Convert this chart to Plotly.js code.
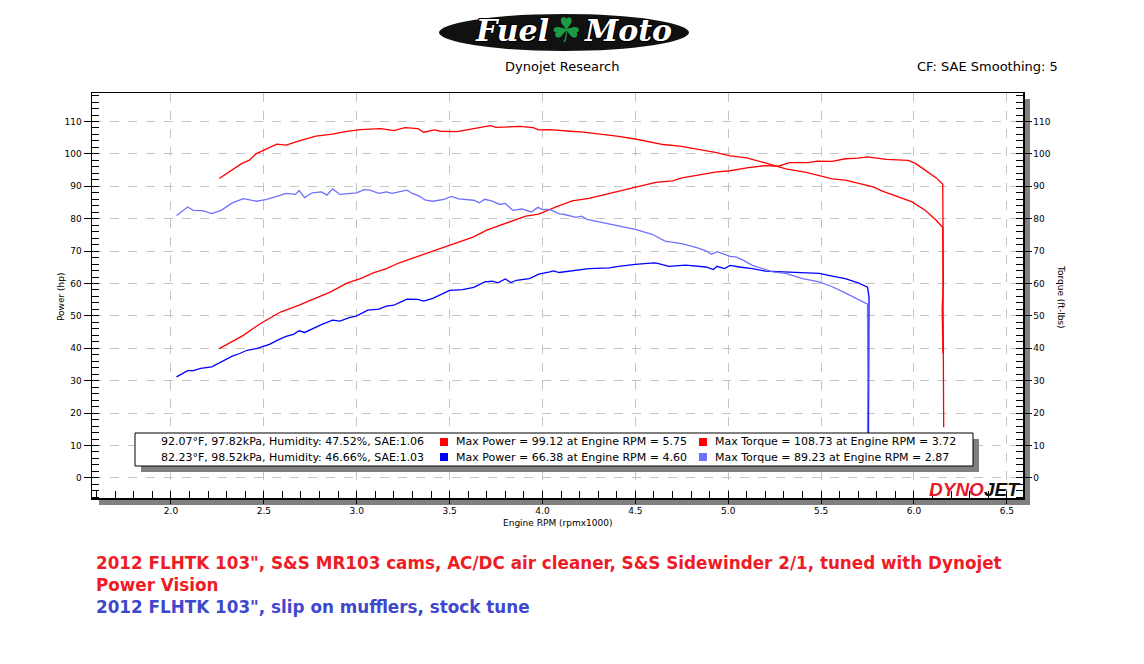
<!DOCTYPE html>
<html>
<head>
<meta charset="utf-8">
<script src="https://cdn.plot.ly/plotly-3.0.1.min.js"></script>
<style>html,body{margin:0;padding:0;background:#fff;}#chart{width:1144px;height:664px;}</style>
</head>
<body>
<div id="chart"></div>
<script>
// ---- Data ----
const tunedHpRpm = [2.26,2.39,2.48,2.59,2.69,2.78,2.86,2.95,3.02,3.09,3.16,3.23,3.32,3.41,3.48,3.57,3.63,3.70,3.77,3.84,3.91,3.98,4.07,4.16,4.25,4.34,4.43,4.52,4.61,4.70,4.75,4.83,4.93,5.01,5.10,5.20,5.27,5.33,5.43,5.48,5.56,5.63,5.70,5.75,5.85,5.97,6.01,6.06,6.12,6.155,6.158,6.152,6.156];
const tunedHp = [39.9,44.0,47.6,51.2,53.3,55.4,57.4,60.2,61.5,63.3,64.6,66.4,68.2,69.8,71.3,73.1,74.4,76.5,78.0,79.5,80.8,81.4,83.6,85.5,86.3,87.5,88.8,90.0,91.2,91.7,92.6,93.4,94.4,94.8,95.7,96.4,96.2,97.3,97.3,97.8,97.7,98.5,98.7,99.1,98.3,98.0,97.0,95.0,92.6,90.6,60,52,38.5];

const tunedTqRpm = [2.26,2.38,2.42,2.46,2.57,2.62,2.69,2.78,2.87,2.93,3.02,3.09,3.13,3.20,3.26,3.33,3.36,3.42,3.45,3.54,3.63,3.72,3.75,3.88,3.95,3.98,4.04,4.09,4.15,4.22,4.33,4.40,4.50,4.59,4.65,4.74,4.83,4.93,5.01,5.10,5.20,5.31,5.42,5.51,5.56,5.63,5.70,5.78,5.83,5.90,5.99,6.06,6.12,6.155,6.158,6.16];
const tunedTq = [92.4,97.0,98.0,100.1,103.0,102.7,104.0,105.5,106.1,106.8,107.5,107.8,107.8,107.2,108.1,107.8,106.7,107.4,107.0,106.9,107.8,108.7,108.2,108.5,108.1,107.4,107.5,107.2,107.0,106.7,106.0,105.5,104.6,103.6,102.9,102.4,101.5,100.5,99.4,98.8,97.2,95.4,94.3,93.1,92.3,91.9,90.9,89.8,88.5,87.0,85.2,82.6,79.5,77.3,50,15.6];

const stockHpRpm = [2.03,2.09,2.12,2.16,2.22,2.27,2.33,2.37,2.41,2.46,2.51,2.53,2.58,2.62,2.66,2.69,2.72,2.76,2.81,2.87,2.91,2.96,3.00,3.06,3.12,3.16,3.20,3.23,3.27,3.33,3.36,3.41,3.46,3.50,3.57,3.63,3.69,3.73,3.76,3.80,3.83,3.86,3.93,3.98,4.04,4.06,4.09,4.12,4.18,4.25,4.36,4.41,4.50,4.60,4.62,4.68,4.77,4.83,4.88,4.92,4.94,4.98,5.01,5.06,5.13,5.20,5.27,5.35,5.42,5.49,5.56,5.63,5.70,5.75,5.758,5.758,5.755];
const stockHp = [31.2,33.1,33.1,33.8,34.3,35.8,37.6,38.4,39.4,39.9,40.7,41.2,42.7,43.7,44.3,45.4,44.9,46.0,47.3,48.7,48.4,49.5,50.0,51.8,52.1,53.0,53.3,54.1,55.2,55.1,54.6,55.4,56.7,57.9,58.1,58.8,60.5,60.7,60.2,61.4,60.3,61.0,61.5,62.9,63.6,63.9,63.4,63.6,64.1,64.6,64.8,65.3,65.9,66.4,66.2,65.3,65.7,65.4,65.1,64.3,65.3,64.6,65.6,65.1,64.6,63.8,63.6,63.6,63.3,63.1,62.3,61.5,60.2,58.9,55.9,51.8,12];

const stockTqRpm = [2.03,2.09,2.12,2.17,2.22,2.27,2.33,2.39,2.46,2.51,2.57,2.62,2.67,2.69,2.72,2.76,2.81,2.84,2.87,2.91,3.00,3.04,3.07,3.12,3.16,3.19,3.27,3.30,3.34,3.37,3.41,3.47,3.51,3.55,3.63,3.66,3.69,3.73,3.77,3.80,3.84,3.89,3.94,3.975,4.00,4.04,4.09,4.12,4.18,4.21,4.24,4.33,4.40,4.50,4.59,4.66,4.75,4.83,4.88,4.91,4.94,4.98,5.01,5.04,5.08,5.13,5.18,5.24,5.31,5.40,5.49,5.56,5.63,5.70,5.73,5.75,5.752,5.75];
const stockTq = [81.0,83.6,82.6,82.5,81.6,82.6,84.9,86.2,85.4,85.9,86.9,87.8,87.5,88.7,86.5,88.0,88.3,87.3,89.2,87.5,88.0,89.0,88.8,87.8,88.3,87.8,88.8,87.8,86.9,85.7,85.4,86.0,86.9,86.1,85.7,84.9,86.0,85.4,84.4,84.7,82.6,83.0,82.1,83.5,82.8,82.9,81.5,81.3,80.4,80.8,79.8,78.7,77.8,76.7,75.2,73.1,72.3,71.1,70.1,69.0,69.8,69.0,68.4,68.2,67.2,65.6,64.6,63.6,63.1,61.5,60.5,59.0,57.1,55.1,54.0,53.6,30,11.5];

const infoConditions = ["92.07°F, 97.82kPa, Humidity: 47.52%, SAE:1.06", "82.23°F, 98.52kPa, Humidity: 46.66%, SAE:1.03"];
const infoPower = ["Max Power = 99.12 at Engine RPM = 5.75", "Max Power = 66.38 at Engine RPM = 4.60"];
const infoTorque = ["Max Torque = 108.73 at Engine RPM = 3.72", "Max Torque = 89.23 at Engine RPM = 2.87"];
const captionTuned = "2012 FLHTK 103\", S&S MR103 cams, AC/DC air cleaner, S&S Sidewinder 2/1, tuned with Dynojet<br>Power Vision";
const captionStock = "2012 FLHTK 103\", slip on mufflers, stock tune";

// ---- Styles ----
const RED = "#ff0000", BLUE = "#0000ff", LBLUE = "#7070ff";
const FONT = "DejaVu Sans";
const L = 92, R = 1023, T = 93, B = 498;
const px = x => (x - L) / (R - L);
const py = y => (B - y) / (B - T);

const traces = [
  {x: tunedHpRpm, y: tunedHp, type: "scatter", mode: "lines", line: {color: RED, width: 1.3}, yaxis: "y"},
  {x: tunedTqRpm, y: tunedTq, type: "scatter", mode: "lines", line: {color: RED, width: 1.3}, yaxis: "y2"},
  {x: stockHpRpm, y: stockHp, type: "scatter", mode: "lines", line: {color: BLUE, width: 1.3}, yaxis: "y"},
  {x: stockTqRpm, y: stockTq, type: "scatter", mode: "lines", line: {color: LBLUE, width: 1.3}, yaxis: "y2"}
];

const yCommon = {
  range: [-6.2, 118.8], dtick: 10, tick0: 0,
  showline: true, linecolor: "#000", linewidth: 1.5,
  ticks: "outside", ticklen: 7, tickcolor: "#000", tickwidth: 1,
  minor: {dtick: 2, ticks: "inside", ticklen: 7, tickcolor: "#000", showgrid: false},
  tickfont: {family: FONT, size: 9, color: "#000"},
  zeroline: false, fixedrange: true
};

const layout = {
  width: 1144, height: 664,
  margin: {l: L, r: 1144 - R, t: T, b: 664 - B, pad: 0},
  paper_bgcolor: "#fff", plot_bgcolor: "#fff",
  showlegend: false,
  font: {family: FONT, color: "#000"},
  xaxis: {
    range: [1.575, 6.587], dtick: 0.5, tick0: 0, tickformat: ".1f",
    showline: true, mirror: true, linecolor: "#000", linewidth: 1.5,
    ticks: "outside", ticklen: 4, tickcolor: "#000",
    minor: {dtick: 0.1, ticks: "inside", ticklen: 7, tickcolor: "#000", showgrid: false},
    showgrid: true, gridcolor: "#c4c4c4", griddash: "dash", gridwidth: 1,
    tickfont: {family: FONT, size: 9, color: "#000"},
    zeroline: false, fixedrange: true
  },
  yaxis: Object.assign({}, yCommon, {
    showgrid: true, gridcolor: "#c4c4c4", griddash: "dash", gridwidth: 1, side: "left"
  }),
  yaxis2: Object.assign({}, yCommon, {
    overlaying: "y", side: "right", showgrid: false
  }),
  shapes: [
    // plot-area drop shadow
    {type: "rect", xref: "paper", yref: "paper", x0: px(1023), x1: px(1030), y0: py(505), y1: py(99), fillcolor: "#808080", line: {width: 0}, layer: "below"},
    {type: "rect", xref: "paper", yref: "paper", x0: px(99), x1: px(1030), y0: py(505), y1: py(498), fillcolor: "#808080", line: {width: 0}, layer: "below"},
    // info box shadow + box
    {type: "rect", xref: "paper", yref: "paper", x0: px(141), x1: px(979), y0: py(472), y1: py(439), fillcolor: "#808080", line: {width: 0}, layer: "above"},
    {type: "rect", xref: "paper", yref: "paper", x0: px(135), x1: px(973), y0: py(466), y1: py(433), fillcolor: "#fff", line: {color: "#000", width: 1}, layer: "above"},
    // legend squares
    {type: "rect", xref: "paper", yref: "paper", x0: px(440), x1: px(448), y0: py(446), y1: py(438), fillcolor: RED, line: {width: 0}, layer: "above"},
    {type: "rect", xref: "paper", yref: "paper", x0: px(699), x1: px(707), y0: py(446), y1: py(438), fillcolor: RED, line: {width: 0}, layer: "above"},
    {type: "rect", xref: "paper", yref: "paper", x0: px(440), x1: px(448), y0: py(461), y1: py(453), fillcolor: BLUE, line: {width: 0}, layer: "above"},
    {type: "rect", xref: "paper", yref: "paper", x0: px(699), x1: px(707), y0: py(461), y1: py(453), fillcolor: LBLUE, line: {width: 0}, layer: "above"},
    // logo swoosh
    {type: "circle", xref: "paper", yref: "paper", x0: px(438), x1: px(690), y0: py(52), y1: py(13), fillcolor: "#111", line: {color: "#fff", width: 2}, layer: "above"}
  ],
  annotations: [
    // header
    {xref: "paper", yref: "paper", x: px(512), y: py(30), text: "Fuel", showarrow: false, xanchor: "center", yanchor: "middle",
     font: {family: "DejaVu Serif", size: 30, color: "#fff", style: "italic", weight: "bold", shadow: "1px 1px 0 #000,-1px -1px 0 #000,1px -1px 0 #000,-1px 1px 0 #000"}},
    {xref: "paper", yref: "paper", x: px(566), y: py(30), text: "☘", showarrow: false, xanchor: "center", yanchor: "middle",
     font: {family: FONT, size: 34, color: "#1d9a45"}},
    {xref: "paper", yref: "paper", x: px(628), y: py(30), text: "Moto", showarrow: false, xanchor: "center", yanchor: "middle",
     font: {family: "DejaVu Serif", size: 30, color: "#fff", style: "italic", weight: "bold", shadow: "1px 1px 0 #000,-1px -1px 0 #000,1px -1px 0 #000,-1px 1px 0 #000"}},
    {xref: "paper", yref: "paper", x: px(562), y: py(66), text: "Dynojet Research", showarrow: false, xanchor: "center", yanchor: "middle",
     font: {family: FONT, size: 13, color: "#000"}},
    {xref: "paper", yref: "paper", x: px(1060), y: py(66), text: "CF: SAE Smoothing: 5", showarrow: false, xanchor: "right", yanchor: "middle",
     font: {family: FONT, size: 13, color: "#000"}},
    // axis titles
    {xref: "paper", yref: "paper", x: px(557), y: py(523), text: "Engine RPM (rpmx1000)", showarrow: false, xanchor: "center", yanchor: "middle",
     font: {family: FONT, size: 9, color: "#000"}},
    {xref: "paper", yref: "paper", x: px(61), y: py(297), text: "Power (hp)", showarrow: false, textangle: -90, xanchor: "center", yanchor: "middle",
     font: {family: FONT, size: 9, color: "#000"}},
    {xref: "paper", yref: "paper", x: px(1061), y: py(297), text: "Torque (ft-lbs)", showarrow: false, textangle: 90, xanchor: "center", yanchor: "middle",
     font: {family: FONT, size: 9, color: "#000"}},
    // info box text
    {xref: "paper", yref: "paper", x: px(426), y: py(441.5), text: infoConditions[0], showarrow: false, xanchor: "right", yanchor: "middle", font: {family: FONT, size: 11, color: "#000"}},
    {xref: "paper", yref: "paper", x: px(426), y: py(457.5), text: infoConditions[1], showarrow: false, xanchor: "right", yanchor: "middle", font: {family: FONT, size: 11, color: "#000"}},
    {xref: "paper", yref: "paper", x: px(454), y: py(441.5), text: infoPower[0], showarrow: false, xanchor: "left", yanchor: "middle", font: {family: FONT, size: 11, color: "#000"}},
    {xref: "paper", yref: "paper", x: px(454), y: py(457.5), text: infoPower[1], showarrow: false, xanchor: "left", yanchor: "middle", font: {family: FONT, size: 11, color: "#000"}},
    {xref: "paper", yref: "paper", x: px(713), y: py(441.5), text: infoTorque[0], showarrow: false, xanchor: "left", yanchor: "middle", font: {family: FONT, size: 11, color: "#000"}},
    {xref: "paper", yref: "paper", x: px(713), y: py(457.5), text: infoTorque[1], showarrow: false, xanchor: "left", yanchor: "middle", font: {family: FONT, size: 11, color: "#000"}},
    // dynojet mark
    {xref: "paper", yref: "paper", x: px(1022), y: py(489), text: "<span style='color:#e31b2d'>DYNO</span>JET", showarrow: false, xanchor: "right", yanchor: "middle",
     font: {family: "Liberation Sans", size: 19, color: "#111", style: "italic", weight: "bold"}},
    // captions
    {xref: "paper", yref: "paper", x: px(94), y: py(551), text: captionTuned, showarrow: false, xanchor: "left", yanchor: "top", align: "left",
     font: {family: FONT, size: 16.8, color: "#ee1c25", weight: "bold"}},
    {xref: "paper", yref: "paper", x: px(94), y: py(607), text: captionStock, showarrow: false, xanchor: "left", yanchor: "middle", align: "left",
     font: {family: FONT, size: 16.8, color: "#3f48cc", weight: "bold"}}
  ]
};

Plotly.newPlot("chart", traces, layout, {displayModeBar: false, staticPlot: true});
</script>
</body>
</html>
